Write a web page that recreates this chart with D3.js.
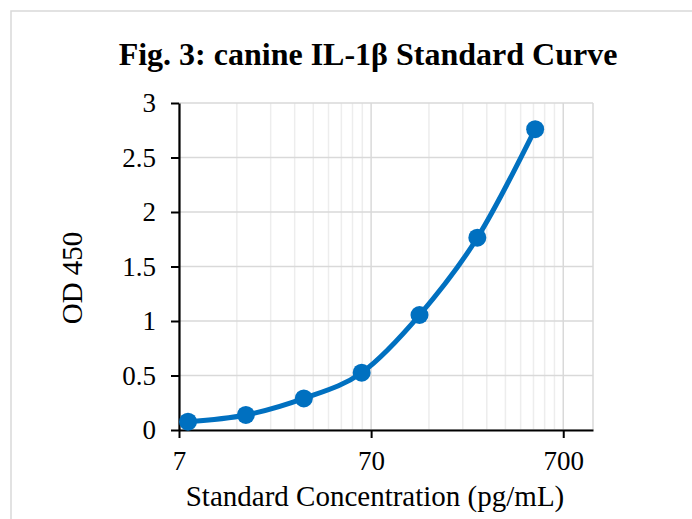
<!DOCTYPE html>
<html>
<head>
<meta charset="utf-8">
<script src="https://cdn.jsdelivr.net/npm/d3@7"></script>
<style>
  body { margin: 0; background: #fff; }
  text { font-family: "Liberation Serif", "Times New Roman", serif; fill: #000; }
</style>
</head>
<body>
<div id="chart"></div>
<script>
// standard curve data
var concentrations = [7.8, 15.6, 31.25, 62.5, 125, 250, 500];
var od450 = [0.076, 0.138, 0.29, 0.526, 1.055, 1.764, 2.76];

// axis ticks
var xTickValues = [7, 70, 700];
var yTickValues = [0, 0.5, 1, 1.5, 2, 2.5, 3];
var xDomain = [7, 1000];
var yDomain = [0, 3];

var svgWidth = 692;
var svgHeight = 519;

var plot = { left: 179, right: 593, top: 103, bottom: 430 };

var svg = d3.select("#chart")
  .append("svg")
  .attr("width", svgWidth)
  .attr("height", svgHeight);

// chart area border (runs off the picture to the right and bottom)
svg.append("rect")
  .attr("x", 11)
  .attr("y", 11)
  .attr("width", 800)
  .attr("height", 800)
  .attr("fill", "none")
  .attr("stroke", "#d9d9d9")
  .attr("stroke-width", 1.5);

var x = d3.scaleLog().domain(xDomain).range([plot.left, plot.right]);
var y = d3.scaleLinear().domain(yDomain).range([plot.bottom, plot.top]);

// minor vertical gridlines: multiples of 7 inside each decade
var minorX = [];
xTickValues.forEach(function(start) {
  for (var k = 2; k <= 9; k++) {
    var v = start * k;
    if (v < xDomain[1]) minorX.push(v);
  }
});

var grid = svg.append("g");

grid.selectAll(".minor-x")
  .data(minorX)
  .enter()
  .append("line")
  .attr("x1", d => x(d))
  .attr("x2", d => x(d))
  .attr("y1", plot.top)
  .attr("y2", plot.bottom)
  .attr("stroke", "#ededed")
  .attr("stroke-width", 1.5);

grid.selectAll(".major-x")
  .data(xTickValues.concat([xDomain[1]]))
  .enter()
  .append("line")
  .attr("x1", d => x(d))
  .attr("x2", d => x(d))
  .attr("y1", plot.top)
  .attr("y2", plot.bottom)
  .attr("stroke", "#d9d9d9")
  .attr("stroke-width", 1.5);

grid.selectAll(".major-y")
  .data(yTickValues)
  .enter()
  .append("line")
  .attr("x1", plot.left)
  .attr("x2", plot.right)
  .attr("y1", d => y(d))
  .attr("y2", d => y(d))
  .attr("stroke", "#d9d9d9")
  .attr("stroke-width", 1.5);

// axes
var bottomAxis = d3.axisBottom(x)
  .tickValues(xTickValues)
  .tickFormat(d3.format("d"))
  .tickSize(8)
  .tickPadding(13)
  .tickSizeOuter(0);

var leftAxis = d3.axisLeft(y)
  .tickValues(yTickValues)
  .tickFormat(d => d)
  .tickSize(8)
  .tickPadding(15)
  .tickSizeOuter(0);

var xAxis = svg.append("g")
  .attr("transform", `translate(0, ${plot.bottom})`)
  .call(bottomAxis);

var yAxis = svg.append("g")
  .attr("transform", `translate(${plot.left}, 0)`)
  .call(leftAxis);

[xAxis, yAxis].forEach(function(ax) {
  ax.select(".domain").attr("stroke", "#000").attr("stroke-width", 2.2);
  ax.selectAll(".tick line").attr("stroke", "#000").attr("stroke-width", 2);
  ax.selectAll(".tick text")
    .attr("fill", "#000")
    .style("font-family", '"Liberation Serif", "Times New Roman", serif')
    .style("font-size", "27px");
});

// curve
var points = concentrations.map(function(c, i) { return [c, od450[i]]; });

var line = d3.line()
  .x(d => x(d[0]))
  .y(d => y(d[1]))
  .curve(d3.curveCatmullRom.alpha(0));

svg.append("path")
  .datum(points)
  .attr("d", line)
  .attr("fill", "none")
  .attr("stroke", "#0070c0")
  .attr("stroke-width", 5)
  .attr("stroke-linejoin", "round");

svg.selectAll(".dot")
  .data(points)
  .enter()
  .append("circle")
  .attr("class", "dot")
  .attr("cx", d => x(d[0]))
  .attr("cy", d => y(d[1]))
  .attr("r", 9)
  .attr("fill", "#0070c0");

// title + axis titles
svg.append("text")
  .attr("x", 368)
  .attr("y", 65)
  .attr("text-anchor", "middle")
  .style("font-size", "32px")
  .style("font-weight", "bold")
  .text("Fig. 3: canine IL-1β Standard Curve");

svg.append("text")
  .attr("x", 375)
  .attr("y", 506)
  .attr("text-anchor", "middle")
  .style("font-size", "29px")
  .text("Standard Concentration (pg/mL)");

svg.append("text")
  .attr("transform", "rotate(-90)")
  .attr("x", -278)
  .attr("y", 82)
  .attr("text-anchor", "middle")
  .style("font-size", "29px")
  .text("OD 450");
</script>
</body>
</html>
